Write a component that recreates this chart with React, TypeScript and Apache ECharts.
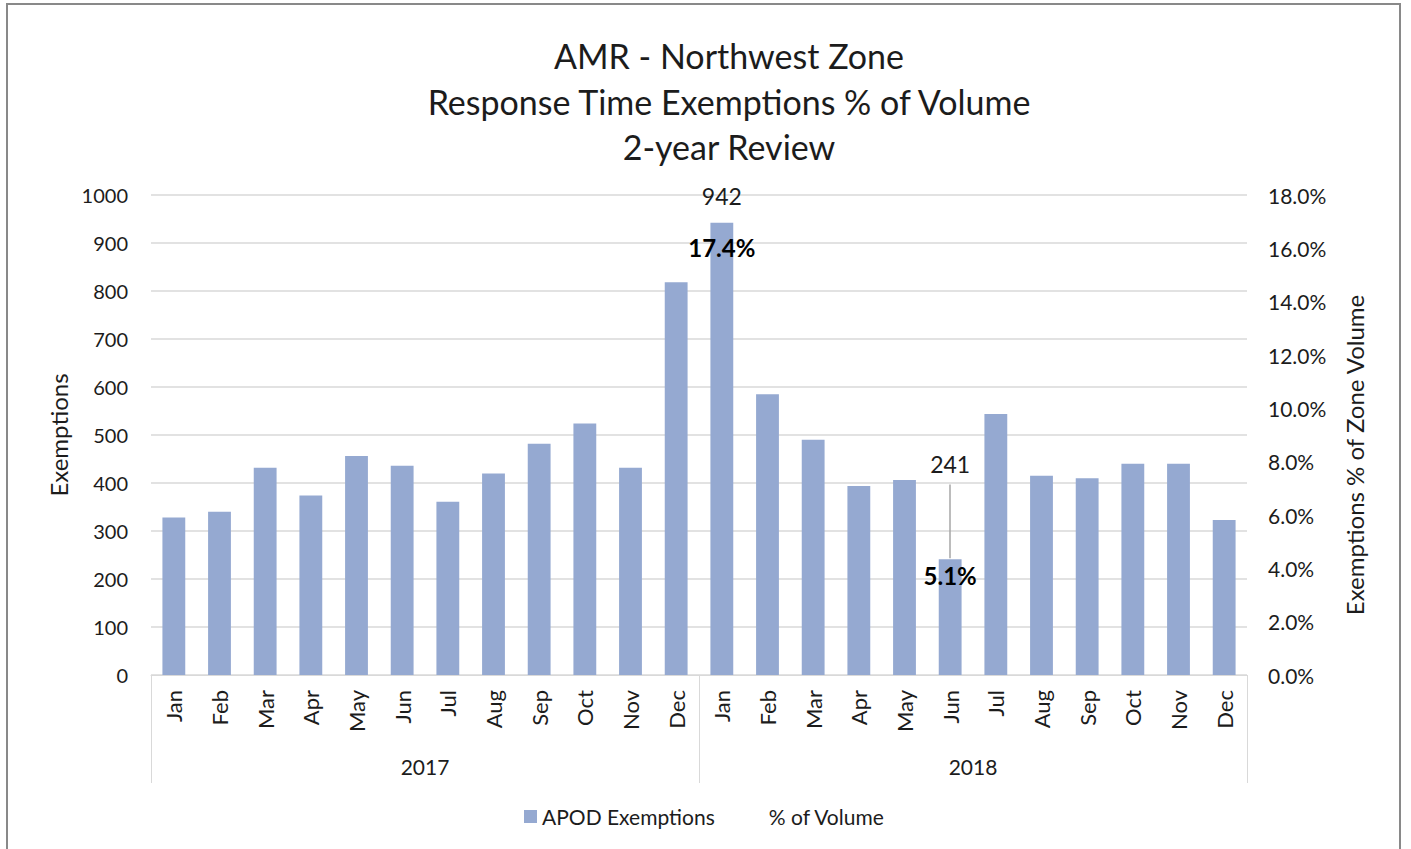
import React, { useEffect, useRef } from "react";
import * as echarts from "echarts";

const months = ["Jan","Feb","Mar","Apr","May","Jun","Jul","Aug","Sep","Oct","Nov","Dec","Jan","Feb","Mar","Apr","May","Jun","Jul","Aug","Sep","Oct","Nov","Dec"];
const years = ["2017", "2018"];
const exemptions = [328,340,432,374,456,436,361,420,482,524,432,818,942,585,490,394,406,241,544,415,410,440,440,323];
const pctVolume: (number | null)[] = [null,null,null,null,null,null,null,null,null,null,null,null,17.4,null,null,null,null,5.1,null,null,null,null,null,null];
const leftTicks = { min: 0, max: 1000, interval: 100 };
const rightTicks = { min: 0, max: 18, interval: 2 };
const titleLines = ["AMR - Northwest Zone", "Response Time Exemptions % of Volume", "2-year Review"];

const FONT = "Lato, 'Open Sans', sans-serif";
const TXT = "#1c1c1c";
const GRID = "#D9D9D9";
const BAR = "#95A9D1";

export default function App() {
  const ref = useRef<HTMLDivElement>(null);
  useEffect(() => {
    if (!ref.current) return;
    const chart = echarts.init(ref.current, null, { renderer: "svg" });
    const maxIdx = exemptions.indexOf(Math.max(...exemptions));
    const minIdx = exemptions.indexOf(Math.min(...exemptions));
    const barData = exemptions.map((v, i) => {
      if (i === maxIdx) return { value: v, label: { show: true, position: "top", distance: 15 } };
      if (i === minIdx) return { value: v, label: { show: true, position: "top", distance: 84 } };
      return v;
    });
    chart.setOption({
      animation: false,
      backgroundColor: "#fff",
      textStyle: { fontFamily: FONT },
      title: {
        text: titleLines.join("\n"),
        left: 724,
        textAlign: "center",
        top: 28,
        textStyle: { fontFamily: FONT, fontSize: 34, fontWeight: "normal", color: TXT, lineHeight: 45.5 },
      },
      legend: {
        left: 519,
        top: 801,
        itemWidth: 13,
        itemHeight: 13,
        itemGap: 36,
        textStyle: { fontFamily: FONT, fontSize: 21, color: TXT },
        data: [
          { name: "APOD Exemptions", icon: "rect" },
          { name: "% of Volume", icon: "rect", itemStyle: { opacity: 0 }, lineStyle: { opacity: 0 } },
        ],
      },
      grid: { left: 151, right: 164, top: 195, bottom: 174, containLabel: false, outerBoundsMode: "none" },
      xAxis: [
        {
          type: "category",
          data: months,
          position: "bottom",
          axisLine: { show: true, lineStyle: { color: GRID, width: 1 } },
          axisTick: { show: false },
          axisLabel: { rotate: 90, margin: 15, fontSize: 22, color: TXT, fontFamily: FONT, interval: 0 },
        },
        {
          type: "category",
          data: years,
          position: "bottom",
          axisLine: { show: false },
          axisTick: { show: true, length: 108, lineStyle: { color: GRID, width: 1 } },
          axisLabel: { margin: 81, fontSize: 21, color: TXT, fontFamily: FONT },
        },
      ],
      yAxis: [
        {
          type: "value",
          ...leftTicks,
          name: "Exemptions",
          nameLocation: "middle",
          nameGap: 79,
          nameRotate: 90,
          nameTextStyle: { fontSize: 24, color: TXT, fontFamily: FONT },
          axisLine: { show: false },
          axisTick: { show: false },
          axisLabel: { margin: 23, fontSize: 20, color: TXT, fontFamily: FONT, padding: [0, 0, 5, 0], formatter: (v: number) => String(v) },
          splitLine: { show: true, lineStyle: { color: GRID, width: 1.5 } },
        },
        {
          type: "value",
          ...rightTicks,
          position: "right",
          name: "Exemptions % of Zone Volume",
          nameLocation: "middle",
          nameGap: 95,
          nameRotate: 90,
          nameTextStyle: { fontSize: 24, color: TXT, fontFamily: FONT, padding: [0, 40, 0, 0] },
          axisLine: { show: false },
          axisTick: { show: false },
          axisLabel: { margin: 21, fontSize: 21, color: TXT, fontFamily: FONT, padding: [0, 0, 5, 0], formatter: (v: number) => v.toFixed(1) + "%" },
          splitLine: { show: false },
        },
      ],
      series: [
        {
          name: "APOD Exemptions",
          type: "bar",
          data: barData,
          barWidth: "50%",
          itemStyle: { color: BAR },
          label: { show: false, fontSize: 23, color: TXT, fontFamily: FONT },
          markLine: {
            silent: true,
            symbol: "none",
            label: { show: false },
            lineStyle: { color: "#A6A6A6", width: 1.5, type: "solid" },
            data: [[{ coord: [minIdx, exemptions[minIdx] + 2] }, { coord: [minIdx, 397] }]],
          },
        },
        {
          name: "% of Volume",
          type: "line",
          yAxisIndex: 1,
          data: pctVolume,
          symbol: "circle",
          symbolSize: 1,
          itemStyle: { color: "rgba(0,0,0,0)" },
          lineStyle: { opacity: 0 },
          label: {
            show: true,
            position: "bottom",
            distance: 24,
            fontSize: 24,
            fontWeight: "bold",
            color: "#000",
            fontFamily: FONT,
            formatter: (p: any) => (p.value == null ? "" : Number(p.value).toFixed(1) + "%"),
          },
        },
      ],
      graphic: [
        {
          type: "rect",
          shape: { x: 7, y: 4, width: 1393, height: 900 },
          style: { fill: "none", stroke: "#898989", lineWidth: 2 },
          z: 100,
          silent: true,
        },
      ],
    });
    return () => chart.dispose();
  }, []);
  return <div ref={ref} style={{ position: "fixed", left: 0, top: 0, width: 1411, height: 849 }} />;
}
